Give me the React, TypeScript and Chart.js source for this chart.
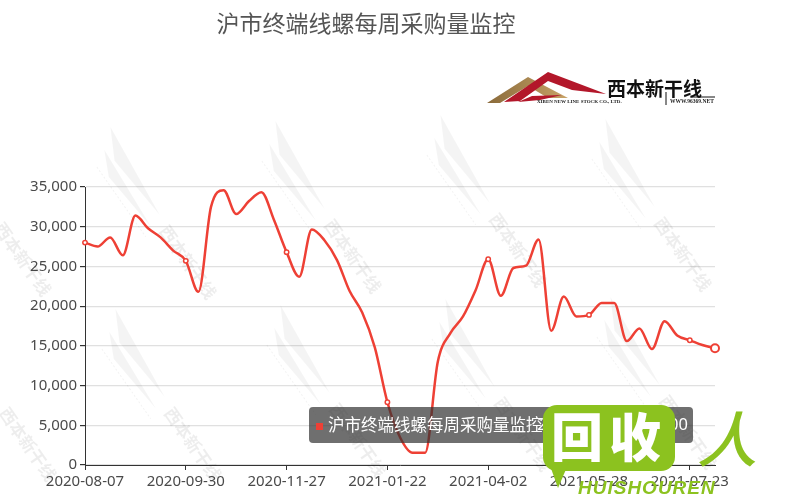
import React, { useEffect, useRef } from "react";
import { Chart, registerables } from "chart.js";

Chart.register(...registerables);

const TITLE = "沪市终端线螺每周采购量监控";
const SERIES_NAME = "沪市终端线螺每周采购量监控";

const dates = [
  "2020-08-07", "2020-08-14", "2020-08-21", "2020-08-28", "2020-09-04", "2020-09-11", "2020-09-18", "2020-09-25",
  "2020-09-30", "2020-10-09", "2020-10-16", "2020-10-23", "2020-10-30", "2020-11-06", "2020-11-13", "2020-11-20",
  "2020-11-27", "2020-12-04", "2020-12-11", "2020-12-18", "2020-12-25", "2021-01-01", "2021-01-08", "2021-01-15",
  "2021-01-22", "2021-01-29", "2021-02-05", "2021-02-26", "2021-03-05", "2021-03-12", "2021-03-19", "2021-03-26",
  "2021-04-02", "2021-04-09", "2021-04-16", "2021-04-23", "2021-04-30", "2021-05-07", "2021-05-14", "2021-05-21",
  "2021-05-28", "2021-06-04", "2021-06-11", "2021-06-18", "2021-06-25", "2021-07-02", "2021-07-09", "2021-07-16",
  "2021-07-23", "2021-07-30", "2021-08-06",
];

const volumes = [
  28000, 27500, 28650, 26400, 31400, 29800, 28650, 27000,
  25700, 21800, 32500, 34600, 31600, 33200, 34350, 30850,
  26800, 23700, 29650, 28300, 25800, 21900, 19200, 14800,
  7900, 3500, 1550, 1550, 13000, 16600, 18700, 22000,
  25900, 21300, 24800, 25100, 28400, 16900, 21200, 18700,
  18900, 20400, 20400, 15600, 17200, 14600, 18100, 16300,
  15700, 15100, 14700,
];

const Y_MIN = 0;
const Y_MAX = 35000;
const Y_STEP = 5000;
const LABEL_EVERY = 8;
const HOVER_INDEX = 50;

const LINE_COLOR = "#ee4035";
const AXIS_FONT = '"Noto Sans", "DejaVu Sans", sans-serif';
const CJK_FONT = '"Noto Sans CJK SC", "Noto Sans", sans-serif';

const watermarkPlugin = {
  id: "watermarks",
  beforeDatasetsDraw(chart: any) {
    const ctx = chart.ctx as CanvasRenderingContext2D;
    const centers = [
      [185, 258], [350, 252], [515, 246], [680, 250],
      [190, 440], [355, 436], [520, 430], [685, 428],
      [20, 255], [25, 440],
    ];
    ctx.save();
    for (const [cx, cy] of centers) {
      ctx.save();
      ctx.translate(cx, cy);
      ctx.rotate((55 * Math.PI) / 180);
      ctx.fillStyle = "rgba(0,0,0,0.045)";
      ctx.beginPath();
      ctx.moveTo(-150, -14);
      ctx.lineTo(-50, -4);
      ctx.lineTo(-120, 2);
      ctx.closePath();
      ctx.fill();
      ctx.beginPath();
      ctx.moveTo(-135, 4);
      ctx.lineTo(-45, 10);
      ctx.lineTo(-110, 16);
      ctx.closePath();
      ctx.fill();
      ctx.strokeStyle = "rgba(0,0,0,0.05)";
      ctx.lineWidth = 1;
      ctx.setLineDash([2, 2]);
      ctx.beginPath();
      ctx.moveTo(-125, 20);
      ctx.lineTo(-40, 20);
      ctx.stroke();
      ctx.setLineDash([]);
      ctx.fillStyle = "rgba(0,0,0,0.07)";
      ctx.font = "bold 17px " + CJK_FONT;
      ctx.textAlign = "center";
      ctx.textBaseline = "middle";
      ctx.fillText("西本新干线", 5, 0);
      ctx.restore();
    }
    ctx.restore();
  },
};

const tooltipPlugin = {
  id: "fixedTooltip",
  afterDraw(chart: any) {
    const ctx = chart.ctx as CanvasRenderingContext2D;
    const x = 309, y = 407, w = 384, h = 36, r = 4;
    ctx.save();
    ctx.fillStyle = "rgba(50,50,50,0.7)";
    ctx.beginPath();
    ctx.moveTo(x + r, y);
    ctx.lineTo(x + w - r, y);
    ctx.quadraticCurveTo(x + w, y, x + w, y + r);
    ctx.lineTo(x + w, y + h - r);
    ctx.quadraticCurveTo(x + w, y + h, x + w - r, y + h);
    ctx.lineTo(x + r, y + h);
    ctx.quadraticCurveTo(x, y + h, x, y + h - r);
    ctx.lineTo(x, y + r);
    ctx.quadraticCurveTo(x, y, x + r, y);
    ctx.closePath();
    ctx.fill();
    ctx.fillStyle = LINE_COLOR;
    ctx.fillRect(316, 423, 7, 7);
    ctx.fillStyle = "#ffffff";
    ctx.font = "16.5px " + CJK_FONT;
    ctx.textBaseline = "middle";
    ctx.textAlign = "left";
    ctx.fillText(SERIES_NAME, 328, 425);
    ctx.textAlign = "right";
    ctx.font = "16.5px " + AXIS_FONT;
    const v = volumes[HOVER_INDEX];
    ctx.fillText(dates[HOVER_INDEX] + " : " + v.toLocaleString("en-US"), 688, 425);
    ctx.restore();
  },
};

export default function App() {
  const canvasRef = useRef<HTMLCanvasElement>(null);

  useEffect(() => {
    if (!canvasRef.current) return;
    const chart = new Chart(canvasRef.current, {
      type: "line",
      data: {
        labels: dates,
        datasets: [
          {
            label: SERIES_NAME,
            data: volumes,
            borderColor: LINE_COLOR,
            borderWidth: 2.5,
            backgroundColor: "#ffffff",
            fill: false,
            cubicInterpolationMode: "monotone",
            pointRadius: (c: any) =>
              c.dataIndex === HOVER_INDEX ? 4 : c.dataIndex % LABEL_EVERY === 0 ? 2.2 : 0,
            pointBorderWidth: (c: any) => (c.dataIndex === HOVER_INDEX ? 2 : 1.5),
            pointBackgroundColor: "#ffffff",
            pointBorderColor: LINE_COLOR,
          } as any,
        ],
      },
      options: {
        responsive: false,
        animation: false,
        events: [],
        layout: { padding: { top: 187, right: 85, left: 0, bottom: 0 } },
        plugins: {
          legend: { display: false },
          tooltip: { enabled: false },
          title: { display: false },
        },
        scales: {
          x: {
            type: "category",
            offset: false,
            grid: {
              display: true,
              drawOnChartArea: false,
              drawTicks: true,
              tickLength: 5,
              color: "#333333",
              tickColor: "#333333",
            },
            border: { display: true, color: "#333333", width: 1 },
            ticks: {
              autoSkip: false,
              maxRotation: 0,
              minRotation: 0,
              padding: 3,
              color: "#4a4a4a",
              font: { family: AXIS_FONT, size: 15 },
              callback: function (this: any, value: any, index: number) {
                return index % LABEL_EVERY === 0 ? this.getLabelForValue(value) : null;
              },
            },
            afterFit: (s: any) => {
              s.height = 35;
            },
          },
          y: {
            min: Y_MIN,
            max: Y_MAX,
            grid: { color: "#e0e0e0", tickColor: "#333333", tickLength: 5, lineWidth: 1.2 },
            border: { display: true, color: "#333333", width: 1 },
            ticks: {
              stepSize: Y_STEP,
              padding: 3,
              color: "#4a4a4a",
              font: { family: AXIS_FONT, size: 15 },
            },
            afterFit: (s: any) => {
              s.width = 85;
            },
          },
        },
      } as any,
      plugins: [watermarkPlugin, tooltipPlugin],
    });
    return () => chart.destroy();
  }, []);

  const green = "#8cc21f";

  return (
    <div
      style={{
        position: "fixed",
        left: 0,
        top: 0,
        width: 800,
        height: 500,
        background: "#ffffff",
        overflow: "hidden",
      }}
    >
      <canvas
        ref={canvasRef}
        width={800}
        height={500}
        style={{ position: "absolute", left: 0, top: 0, width: 800, height: 500 }}
      />
      <div
        style={{
          position: "absolute",
          left: 0,
          top: 8,
          width: 732,
          textAlign: "center",
          fontFamily: CJK_FONT,
          fontSize: 23,
          lineHeight: "28px",
          color: "#555555",
        }}
      >
        {TITLE}
      </div>
      <svg
        width={240}
        height={40}
        viewBox="485 68 240 40"
        style={{ position: "absolute", left: 485, top: 68 }}
      >
        <defs>
          <linearGradient id="gold" x1="0" y1="0" x2="1" y2="0">
            <stop offset="0" stopColor="#8a6a3a" />
            <stop offset="1" stopColor="#c8a468" />
          </linearGradient>
        </defs>
        <polygon points="487,103 528,77 568,98 548,98 528,86 500,103" fill="url(#gold)" />
        <polygon points="504,102 548,72 606,94 572,90 548,81 520,101" fill="#b3172a" />
        <polygon points="518,102 532,96 562,95 540,100" fill="#b3172a" />
        <text x={607} y={96} fontFamily={CJK_FONT} fontWeight={700} fontSize={19} fill="#111111">
          西本新干线
        </text>
        <line x1={690} y1={97} x2={715} y2={97} stroke="#111" strokeWidth={1} />
        <text x={537} y={103} fontFamily="Liberation Serif, serif" fontWeight={700} fontSize={5} fill="#222">
          XIBEN NEW LINE STOCK CO., LTD.
        </text>
        <line x1={666} y1={92} x2={666} y2={105} stroke="#111" strokeWidth={1} />
        <text x={670} y={103} fontFamily="Liberation Serif, serif" fontWeight={700} fontSize={5.5} fill="#222">
          WWW.96369.NET
        </text>
      </svg>
      <div
        style={{
          position: "absolute",
          left: 543,
          top: 405,
          width: 132,
          height: 66,
          borderRadius: 14,
          background: green,
        }}
      />
      <div
        style={{
          position: "absolute",
          left: 548,
          top: 460,
          width: 0,
          height: 0,
          borderLeft: "10px solid transparent",
          borderRight: "12px solid transparent",
          borderTop: "28px solid " + green,
        }}
      />
      <div
        style={{
          position: "absolute",
          left: 551,
          top: 407,
          fontFamily: CJK_FONT,
          fontWeight: 900,
          fontSize: 52,
          lineHeight: "56px",
          color: "#ffffff",
          letterSpacing: 6,
        }}
      >
        回收
      </div>
      <div
        style={{
          position: "absolute",
          left: 697,
          top: 404,
          fontFamily: CJK_FONT,
          fontWeight: 500,
          fontSize: 60,
          lineHeight: "64px",
          color: green,
          fontStyle: "italic",
        }}
      >
        人
      </div>
      <div
        style={{
          position: "absolute",
          left: 578,
          top: 478,
          fontFamily: '"Liberation Sans", sans-serif',
          fontWeight: 700,
          fontStyle: "italic",
          fontSize: 19,
          lineHeight: "20px",
          letterSpacing: 1,
          color: green,
        }}
      >
        HUISHOUREN
      </div>
    </div>
  );
}
